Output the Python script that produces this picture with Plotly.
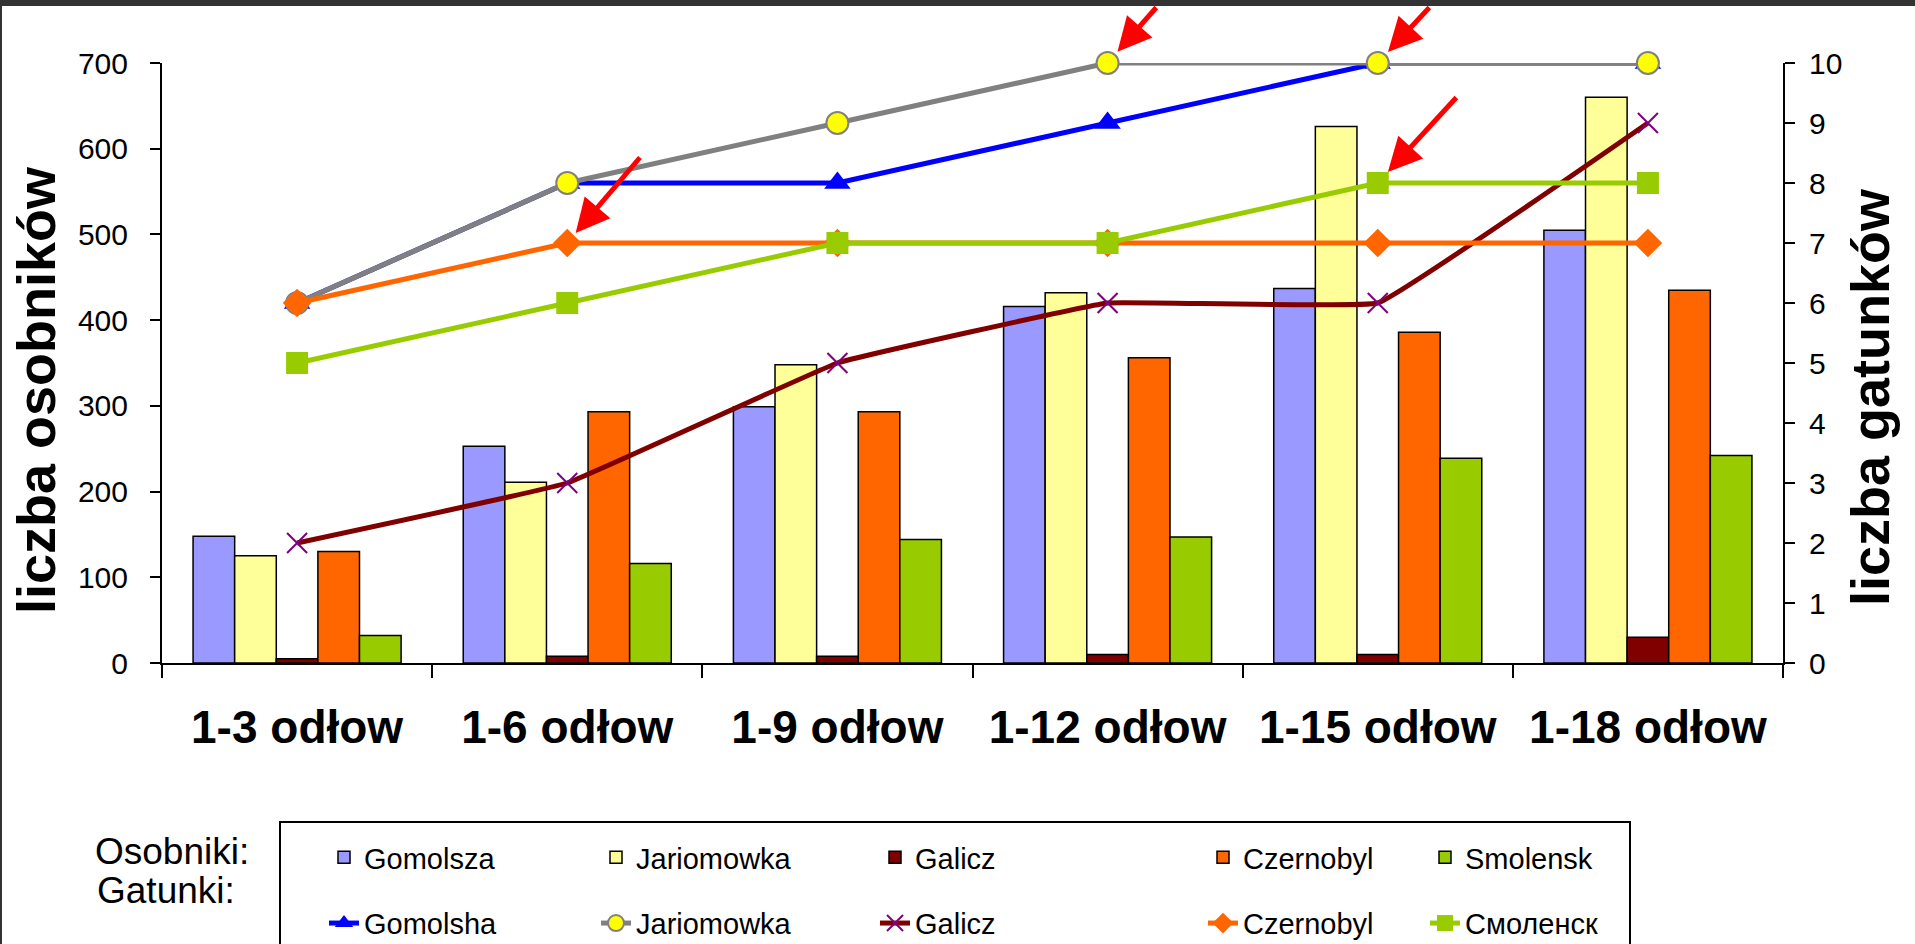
import plotly.graph_objects as go

# --- data -------------------------------------------------------------
categories = ["1-3 odłow", "1-6 odłow", "1-9 odłow", "1-12 odłow", "1-15 odłow", "1-18 odłow"]

# liczba osobników (bars, left axis)
osob_gomolsza = [148, 253, 299, 416, 437, 505]
osob_jariomowka = [125, 211, 348, 432, 626, 660]
osob_galicz = [5, 8, 8, 10, 10, 30]
osob_czernobyl = [130, 293, 293, 356, 386, 435]
osob_smolensk = [32, 116, 144, 147, 239, 242]

# liczba gatunków (lines, right axis)
gat_gomolsha = [6, 8, 8, 9, 10, 10]
gat_jariomowka = [6, 8, 9, 10, 10, 10]
gat_galicz = [2, 3, 5, 6, 6, 9]
gat_czernobyl = [6, 7, 7, 7, 7, 7]
gat_smolensk = [5, 6, 7, 7, 8, 8]

left_ticks = [0, 100, 200, 300, 400, 500, 600, 700]
right_ticks = [0, 1, 2, 3, 4, 5, 6, 7, 8, 9, 10]

bar_names = ["Gomolsza", "Jariomowka", "Galicz", "Czernobyl", "Smolensk"]
line_names = ["Gomolsha", "Jariomowka", "Galicz", "Czernobyl", "Смоленск"]

# --- page geometry ----------------------------------------------------
W, H = 1915, 944
ML, MR, MT, MB = 162, 132, 63, 281
PW = W - ML - MR
PH = H - MT - MB


def px(x):
    return (x - ML) / PW


def py(y):
    return (H - MB - y) / PH


FONT = "Liberation Sans, Arial, sans-serif"

fig = go.Figure()

bar_values = [osob_gomolsza, osob_jariomowka, osob_galicz, osob_czernobyl, osob_smolensk]
bar_colors = ["#9999FF", "#FFFF99", "#800000", "#FF6600", "#99CC00"]
legend_ids = ["legend", "legend2", "legend3", "legend4", "legend5"]

for i, (name, vals, col) in enumerate(zip(bar_names, bar_values, bar_colors)):
    fig.add_trace(go.Bar(
        x=categories, y=vals, name=name,
        marker=dict(color=col, line=dict(color="black", width=1.5)),
        legend=legend_ids[i], legendgroup=f"b{i}",
        yaxis="y",
    ))

line_values = [gat_gomolsha, gat_jariomowka, gat_galicz, gat_czernobyl, gat_smolensk]
line_styles = [
    dict(line=dict(color="#0000FF", width=5),
         marker=dict(symbol="triangle-up", size=23, color="#0000FF")),
    dict(line=dict(color="#808080", width=5),
         marker=dict(symbol="circle", size=22, color="#FFFF00",
                     line=dict(color="#808080", width=2))),
    dict(line=dict(color="#800000", width=5, shape="spline", smoothing=0.2),
         marker=dict(symbol="x-thin", size=20, color="#800080",
                     line=dict(color="#800080", width=2))),
    dict(line=dict(color="#FF6600", width=5),
         marker=dict(symbol="diamond", size=22, color="#FF6600")),
    dict(line=dict(color="#99CC00", width=5),
         marker=dict(symbol="square", size=22, color="#99CC00")),
]

for i, (name, vals, st) in enumerate(zip(line_names, line_values, line_styles)):
    fig.add_trace(go.Scatter(
        x=categories, y=vals, name=name, mode="lines+markers",
        line=st["line"], marker=st["marker"],
        legend=legend_ids[i], legendgroup=f"l{i}",
        yaxis="y2", cliponaxis=False,
    ))

axis_common = dict(showgrid=False, zeroline=False, linecolor="black", linewidth=2,
                   tickcolor="black", tickwidth=2)

fig.update_layout(
    width=W, height=H, autosize=False,
    margin=dict(l=ML, r=MR, t=MT, b=MB, autoexpand=False),
    paper_bgcolor="white", plot_bgcolor="white",
    font=dict(family=FONT, color="black"),
    barmode="group", bargap=0.23, bargroupgap=0,
    xaxis=dict(
        type="category", range=[-0.5, 5.5], tickson="boundaries",
        ticks="outside", ticklen=13, showline=True,
        tickfont=dict(family=FONT, size=46, weight="bold", color="black"),
        ticklabelstandoff=23,
        **axis_common,
    ),
    xaxis2=dict(
        overlaying="x", anchor="y", side="bottom", type="linear",
        range=[-0.5, 5.5], tickvals=[-0.5, 0.5, 1.5, 2.5, 3.5, 4.5, 5.5],
        ticks="inside", ticklen=12, showticklabels=False, showline=False,
        showgrid=False, zeroline=False, tickcolor="black", tickwidth=2,
    ),
    yaxis=dict(
        range=[0, 700], tickvals=left_ticks, ticks="outside", ticklen=10,
        showline=True, tickfont=dict(family=FONT, size=30, color="black"),
        ticklabelstandoff=16,
        **axis_common,
    ),
    yaxis2=dict(
        range=[0, 10], tickvals=right_ticks, ticks="outside", ticklen=10,
        overlaying="y", side="right", anchor="x", showline=True,
        tickfont=dict(family=FONT, size=30, color="black"),
        ticklabelstandoff=8,
        **axis_common,
    ),
    yaxis3=dict(
        range=[0, 700], tickvals=left_ticks, overlaying="y", side="left", anchor="x",
        ticks="inside", ticklen=10, showticklabels=False, showline=False,
        showgrid=False, zeroline=False, tickcolor="black", tickwidth=2,
    ),
    yaxis4=dict(
        range=[0, 10], tickvals=right_ticks, overlaying="y", side="right", anchor="x",
        ticks="inside", ticklen=10, showticklabels=False, showline=False,
        showgrid=False, zeroline=False, tickcolor="black", tickwidth=2,
    ),
    showlegend=True,
)

# one legend per column: bar entry on top, line entry below
text_starts = [369, 641, 920, 1248, 1470]
for lid, xs in zip(legend_ids, text_starts):
    fig.update_layout({lid: dict(
        x=px(xs - 45), y=py(832), xanchor="left", yanchor="top",
        orientation="v", traceorder="grouped", tracegroupgap=25,
        bgcolor="rgba(0,0,0,0)", borderwidth=0,
        font=dict(family=FONT, size=29, color="black"),
        itemsizing="trace",
    )})

annotations = [
    dict(text="<b>liczba osobników</b>", textangle=-90, x=px(36), y=py(390),
         xref="paper", yref="paper", xanchor="center", yanchor="middle",
         showarrow=False, font=dict(family=FONT, size=54, color="black")),
    dict(text="<b>liczba gatunków</b>", textangle=-90, x=px(1870), y=py(397),
         xref="paper", yref="paper", xanchor="center", yanchor="middle",
         showarrow=False, font=dict(family=FONT, size=54, color="black")),
    dict(text="Osobniki:", x=px(93), y=py(851), xref="paper", yref="paper",
         xanchor="left", yanchor="middle", showarrow=False,
         font=dict(family=FONT, size=37, color="black")),
    dict(text="Gatunki:", x=px(95), y=py(890), xref="paper", yref="paper",
         xanchor="left", yanchor="middle", showarrow=False,
         font=dict(family=FONT, size=37, color="black")),
]

# red arrows pointing at selected species counts
arrow_targets = [
    (categories[1], gat_czernobyl[1], 74, -87, 13),
    (categories[3], gat_jariomowka[3], 50, -57, 15),
    (categories[4], gat_jariomowka[4], 53, -57, 15),
    (categories[4], gat_smolensk[4], 80, -87, 15),
]
for cx, cy, ax, ay, so in arrow_targets:
    annotations.append(dict(
        x=cx, y=cy, xref="x", yref="y2", text="", showarrow=True,
        ax=ax, ay=ay, arrowcolor="#FF0000", arrowwidth=5, arrowhead=2,
        arrowsize=1.35, standoff=so,
    ))

fig.update_layout(annotations=annotations)

shapes = [
    # frame around the legend
    dict(type="rect", xref="paper", yref="paper", x0=px(280), x1=px(1630),
         y0=py(822), y1=py(960), line=dict(color="black", width=2),
         fillcolor="rgba(0,0,0,0)", layer="below"),
    # dark top band and left edge of the slide
    dict(type="rect", xref="paper", yref="paper", x0=px(-5), x1=px(W + 5),
         y0=py(0), y1=py(6), line=dict(width=0), fillcolor="#333333", layer="above"),
    dict(type="rect", xref="paper", yref="paper", x0=px(-5), x1=px(2),
         y0=py(0), y1=py(H + 5), line=dict(width=0), fillcolor="#333333", layer="above"),
]
fig.update_layout(shapes=shapes)

fig.write_html("out.html")
